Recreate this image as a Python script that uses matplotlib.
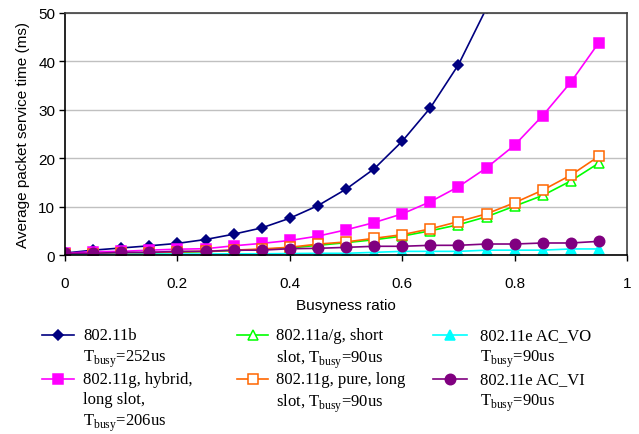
import matplotlib
matplotlib.use("Agg")
import matplotlib.pyplot as plt
from matplotlib.lines import Line2D

plt.rcParams['font.family'] = ['Liberation Sans', 'DejaVu Sans']
plt.rcParams['mathtext.fontset'] = 'custom'
plt.rcParams['mathtext.rm'] = 'Liberation Serif'

# busyness ratio steps
ratio = [0.0, 0.05, 0.1, 0.15, 0.2, 0.25, 0.3, 0.35, 0.4, 0.45,
         0.5, 0.55, 0.6, 0.65, 0.7, 0.75, 0.8, 0.85, 0.9, 0.95]

# average packet service time (ms) per scheme
b_252 = [0.4, 1.0, 1.45, 1.9, 2.4, 3.2, 4.3, 5.6, 7.6, 10.2,
         13.6, 17.8, 23.5, 30.4, 39.3, 51.0]
g_hybrid = [0.35, 0.7, 0.75, 1.0, 1.2, 1.3, 1.9, 2.4, 3.0, 3.9,
            5.2, 6.7, 8.5, 11.0, 14.1, 18.0, 22.7, 28.8, 35.7, 43.9]
ag_short = [0.15, 0.2, 0.3, 0.4, 0.55, 0.7, 0.9, 1.15, 1.45, 2.0,
            2.55, 3.15, 3.9, 5.0, 6.25, 7.9, 10.1, 12.3, 15.3, 19.0]
g_pure = [0.2, 0.25, 0.35, 0.5, 0.65, 0.8, 1.0, 1.25, 1.6, 2.25,
          2.7, 3.45, 4.2, 5.4, 6.9, 8.5, 10.8, 13.4, 16.5, 20.4]
e_vo = [0.1, 0.1, 0.15, 0.15, 0.2, 0.2, 0.25, 0.25, 0.3, 0.35,
        0.35, 0.55, 0.75, 0.75, 0.75, 1.0, 1.0, 1.0, 1.25, 1.25]
e_vi = [0.35, 0.35, 0.55, 0.55, 0.75, 0.75, 1.0, 1.0, 1.3, 1.38,
        1.58, 1.8, 1.8, 2.0, 2.0, 2.27, 2.27, 2.48, 2.48, 2.82]

labels = [
    '802.11b\nT$_{\\mathrm{busy}}$=252us',
    '802.11g, hybrid,\nlong slot,\nT$_{\\mathrm{busy}}$=206us',
    '802.11a/g, short\nslot, T$_{\\mathrm{busy}}$=90us',
    '802.11g, pure, long\nslot, T$_{\\mathrm{busy}}$=90us',
    '802.11e AC_VO\nT$_{\\mathrm{busy}}$=90us',
    '802.11e AC_VI\nT$_{\\mathrm{busy}}$=90us',
]
series = [b_252, g_hybrid, ag_short, g_pure, e_vo, e_vi]
colors = ['#000080', '#FF00FF', '#00FF00', '#FF6600', '#00FFFF', '#800080']
markers = ['D', 's', '^', 's', '^', 'o']
msizes = [5, 7, 6.5, 6.5, 6.5, 7.5]
filled = [True, True, False, False, True, True]

fig = plt.figure(figsize=(6.39, 4.35), dpi=100)
ax = fig.add_axes([65 / 639, 1 - 256 / 435, 562 / 639, 242 / 435])

styles = []
for ys, c, m, ms, f in zip(series, colors, markers, msizes, filled):
    st = dict(color=c, marker=m, markersize=ms, linewidth=1.2,
              markerfacecolor=c if f else 'white', markeredgecolor=c,
              markeredgewidth=1.1)
    styles.append(st)
    ax.plot(ratio[:len(ys)], ys, **st)

ax.set_xlim(0, 1)
ax.set_ylim(0, 50)
ax.set_xticks([0, 0.2, 0.4, 0.6, 0.8, 1])
ax.set_xticklabels(['0', '0.2', '0.4', '0.6', '0.8', '1'])
ax.set_yticks([0, 10, 20, 30, 40, 50])
ax.yaxis.grid(True, color='#c0c0c0', linewidth=1)
ax.set_axisbelow(True)
ax.tick_params(direction='out', length=4, width=1, labelsize=11, colors='black')
ax.tick_params(axis='x', pad=11)
ax.tick_params(axis='y', pad=3)
for s in ['left', 'bottom']:
    ax.spines[s].set_color('black')
    ax.spines[s].set_linewidth(1.2)
for s in ['top', 'right']:
    ax.spines[s].set_color('#404040')
    ax.spines[s].set_linewidth(1.2)

ax.set_xlabel('Busyness ratio', fontsize=11, labelpad=6)
ax.set_ylabel('Average packet service time (ms)', fontsize=11, labelpad=6)

# legend drawn by hand, three columns below the plot (pixel positions)
col_x = [(42, 74, 83), (237, 268, 276), (433, 467, 480)]
row_y = [336, 380]
W, H = 639, 435
for i, (lab, st) in enumerate(zip(labels, styles)):
    col = i // 2
    row = i % 2
    x0, x1, tx = col_x[col]
    yc = row_y[row]
    h = Line2D([x0 / W, (x0 + x1) / 2 / W, x1 / W], [1 - yc / H] * 3,
               transform=fig.transFigure, markevery=[1], **st)
    fig.add_artist(h)
    fig.text(tx / W, 1 - (yc - 8) / H, lab, fontsize=12, va='top', ha='left',
             family=['Liberation Serif', 'DejaVu Serif'], linespacing=1.35)

fig.savefig('out.png', dpi=100)
